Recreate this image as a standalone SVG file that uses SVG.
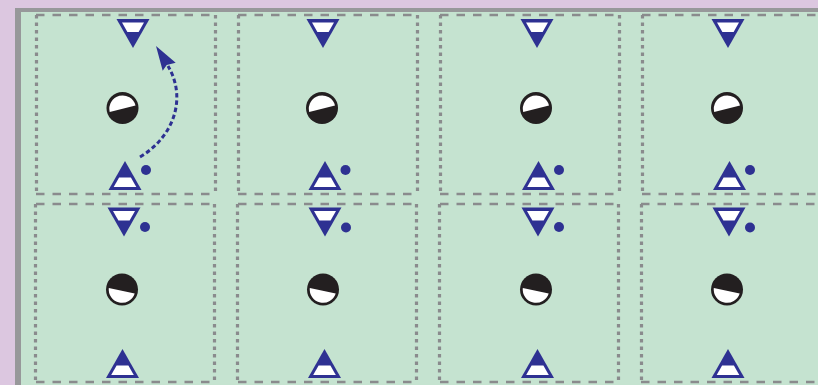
<svg xmlns="http://www.w3.org/2000/svg" xmlns:xlink="http://www.w3.org/1999/xlink" width="818" height="385" viewBox="0 0 818 385">
<style>
.hd{stroke:#8a8b8d;stroke-width:2.4;stroke-dasharray:8.5 8;fill:none}
.vd{stroke:#8a8b8d;stroke-width:3.2;stroke-dasharray:3.5 4;fill:none}
.blue{fill:#2e3192}
.wh{fill:#ffffff}
.blk{fill:#231f20}
.conn{stroke:#2e3192;stroke-width:3;stroke-dasharray:4.5 2.8;fill:none}
</style>
<defs>
<g id="tdown">
<polygon class="blue" points="-16.5,0 16.5,0 0,29"/>
<polygon class="wh" points="-11,3.5 11,3.5 5.6,13 -5.6,13"/>
</g>
<g id="tup">
<polygon class="blue" points="0,0 16.5,29 -16.5,29"/>
<polygon class="wh" points="-5.9,16.5 5.9,16.5 11.3,26 -11.3,26"/>
</g>
<g id="ballA">
<circle class="blk" r="16"/>
<path class="wh" d="M-12.8,4 L13,-2.5 A13.3,13.3 0 1 0 -12.8,4 Z"/>
</g>
<g id="ballB">
<circle class="blk" r="16"/>
<path class="wh" d="M-13.2,-1.5 L12.7,4 A13.3,13.3 0 0 1 -13.2,-1.5 Z"/>
</g>
</defs>
<rect x="0" y="0" width="818" height="385" fill="#dcc7e0"/>
<rect x="15" y="8" width="810" height="385" fill="#97989a"/>
<rect x="21" y="12" width="800" height="380" fill="#c5e3d0"/>

<g id="cells">
<g id="cell-r1c1"><line class="hd" x1="36" y1="15" x2="215" y2="15"/><line class="hd" x1="36" y1="194" x2="215" y2="194"/><line class="vd" x1="36.5" y1="15" x2="36.5" y2="194"/><line class="vd" x1="215.5" y1="15" x2="215.5" y2="194"/></g>
<g id="cell-r1c2"><line class="hd" x1="238" y1="15" x2="417" y2="15"/><line class="hd" x1="238" y1="194" x2="417" y2="194"/><line class="vd" x1="238.5" y1="15" x2="238.5" y2="194"/><line class="vd" x1="417.5" y1="15" x2="417.5" y2="194"/></g>
<g id="cell-r1c3"><line class="hd" x1="440" y1="15" x2="619" y2="15"/><line class="hd" x1="440" y1="194" x2="619" y2="194"/><line class="vd" x1="440.5" y1="15" x2="440.5" y2="194"/><line class="vd" x1="619.5" y1="15" x2="619.5" y2="194"/></g>
<g id="cell-r1c4"><line class="hd" x1="642" y1="15" x2="822" y2="15"/><line class="hd" x1="642" y1="194" x2="822" y2="194"/><line class="vd" x1="642.5" y1="15" x2="642.5" y2="194"/></g>
<g id="cell-r2c1"><line class="hd" x1="36" y1="204" x2="215" y2="204"/><line class="hd" x1="36" y1="382" x2="215" y2="382"/><line class="vd" x1="35.5" y1="204" x2="35.5" y2="382"/><line class="vd" x1="214.5" y1="204" x2="214.5" y2="382"/></g>
<g id="cell-r2c2"><line class="hd" x1="238" y1="204" x2="417" y2="204"/><line class="hd" x1="238" y1="382" x2="417" y2="382"/><line class="vd" x1="237.5" y1="204" x2="237.5" y2="382"/><line class="vd" x1="416.5" y1="204" x2="416.5" y2="382"/></g>
<g id="cell-r2c3"><line class="hd" x1="440" y1="204" x2="619" y2="204"/><line class="hd" x1="440" y1="382" x2="619" y2="382"/><line class="vd" x1="439.5" y1="204" x2="439.5" y2="382"/><line class="vd" x1="618.5" y1="204" x2="618.5" y2="382"/></g>
<g id="cell-r2c4"><line class="hd" x1="641" y1="204" x2="822" y2="204"/><line class="hd" x1="641" y1="382" x2="822" y2="382"/><line class="vd" x1="641.5" y1="204" x2="641.5" y2="382"/></g>
</g>

<g id="n-r1c1-top"><use xlink:href="#tdown" href="#tdown" transform="translate(133,19)"/></g>
<g id="n-r1c1-ball"><use xlink:href="#ballA" href="#ballA" transform="translate(122.5,108)"/></g>
<g id="n-r1c1-bot"><use xlink:href="#tup" href="#tup" transform="translate(125,161)"/><circle class="blue" cx="146" cy="170" r="5"/></g>

<g id="n-r1c2-top"><use xlink:href="#tdown" href="#tdown" transform="translate(323,19)"/></g>
<g id="n-r1c2-ball"><use xlink:href="#ballA" href="#ballA" transform="translate(322,108)"/></g>
<g id="n-r1c2-bot"><use xlink:href="#tup" href="#tup" transform="translate(325,161)"/><circle class="blue" cx="345.5" cy="170" r="5"/></g>

<g id="n-r1c3-top"><use xlink:href="#tdown" href="#tdown" transform="translate(537,19)"/></g>
<g id="n-r1c3-ball"><use xlink:href="#ballA" href="#ballA" transform="translate(536,108)"/></g>
<g id="n-r1c3-bot"><use xlink:href="#tup" href="#tup" transform="translate(538.5,161)"/><circle class="blue" cx="559" cy="170" r="5"/></g>

<g id="n-r1c4-top"><use xlink:href="#tdown" href="#tdown" transform="translate(728,19)"/></g>
<g id="n-r1c4-ball"><use xlink:href="#ballA" href="#ballA" transform="translate(727,108)"/></g>
<g id="n-r1c4-bot"><use xlink:href="#tup" href="#tup" transform="translate(729.5,161)"/><circle class="blue" cx="750" cy="170" r="5"/></g>

<g id="n-r2c1-top"><use xlink:href="#tdown" href="#tdown" transform="translate(124,207.5)"/><circle class="blue" cx="145" cy="227" r="5"/></g>
<g id="n-r2c1-ball"><use xlink:href="#ballB" href="#ballB" transform="translate(122,289.5)"/></g>
<g id="n-r2c1-bot"><use xlink:href="#tup" href="#tup" transform="translate(122.5,349)"/></g>

<g id="n-r2c2-top"><use xlink:href="#tdown" href="#tdown" transform="translate(325,207.5)"/><circle class="blue" cx="346" cy="227.5" r="5"/></g>
<g id="n-r2c2-ball"><use xlink:href="#ballB" href="#ballB" transform="translate(323,289.5)"/></g>
<g id="n-r2c2-bot"><use xlink:href="#tup" href="#tup" transform="translate(324.5,349)"/></g>

<g id="n-r2c3-top"><use xlink:href="#tdown" href="#tdown" transform="translate(538,207.5)"/><circle class="blue" cx="559" cy="227" r="5"/></g>
<g id="n-r2c3-ball"><use xlink:href="#ballB" href="#ballB" transform="translate(536,289.5)"/></g>
<g id="n-r2c3-bot"><use xlink:href="#tup" href="#tup" transform="translate(537.5,349)"/></g>

<g id="n-r2c4-top"><use xlink:href="#tdown" href="#tdown" transform="translate(729,207.5)"/><circle class="blue" cx="750" cy="227.5" r="5"/></g>
<g id="n-r2c4-ball"><use xlink:href="#ballB" href="#ballB" transform="translate(727,289.5)"/></g>
<g id="n-r2c4-bot"><use xlink:href="#tup" href="#tup" transform="translate(728,349)"/></g>

<g id="connectors">
<path class="conn" d="M140,157 C172,138 188,100 168,66"/>
<polygon class="blue" points="156,46 175.7,62.7 166.7,65 162.7,70.7"/>
</g>
</svg>
